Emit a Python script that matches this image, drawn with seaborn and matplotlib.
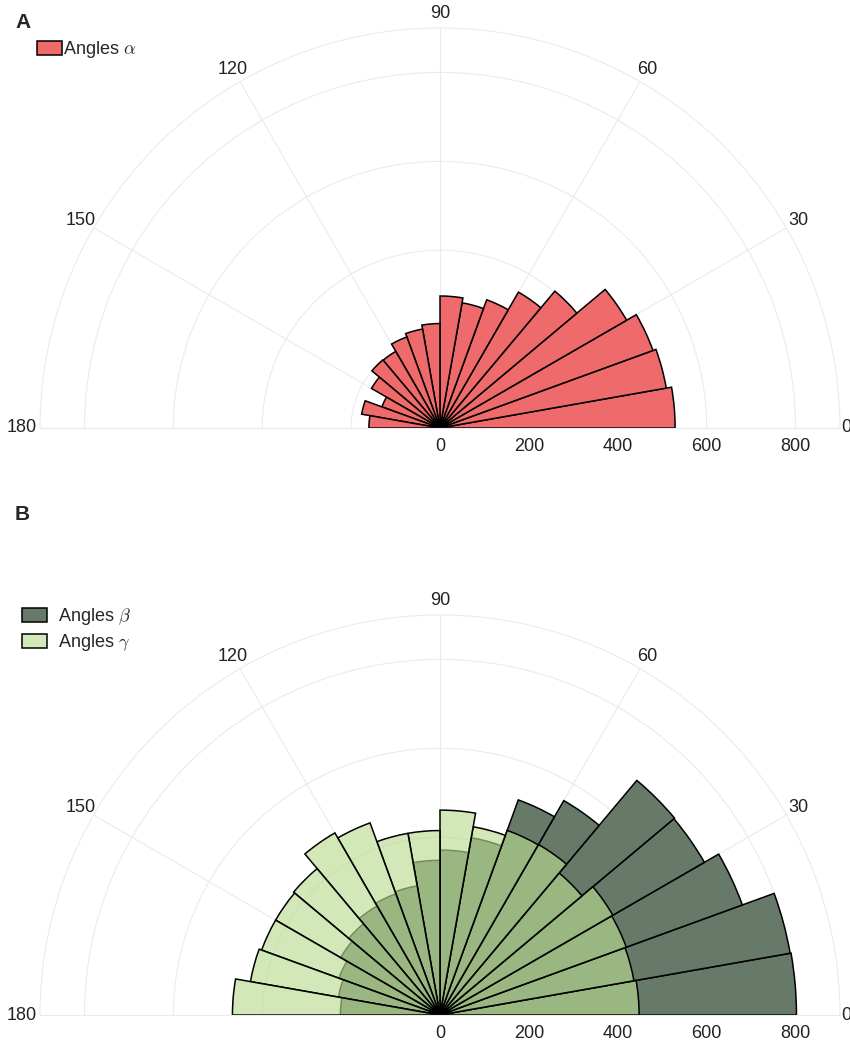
import numpy as np
import matplotlib
matplotlib.use("Agg")
import matplotlib.pyplot as plt
from matplotlib.patches import Patch
from matplotlib.colors import to_rgba
from matplotlib.transforms import offset_copy
import seaborn as sns

sns.set_theme(style="white")
plt.rcParams['font.family'] = ['Liberation Sans', 'DejaVu Sans']
plt.rcParams['mathtext.fontset'] = 'cm'

# 10 degree bins from 0 to 180
bin_start = list(range(0, 180, 10))
bin_width = 10

alpha_counts = [529, 517, 510, 485, 402, 353, 307, 286, 297,
                235, 226, 218, 199, 200, 178, 139, 179, 160]
beta_counts = [802, 800, 724, 687, 689, 557, 515, 405, 371,
               348, 295, 290, 283, 268, 258, 242, 232, 224]
gamma_counts = [448, 443, 446, 449, 417, 443, 442, 430, 461,
                415, 415, 460, 473, 430, 427, 427, 433, 467]

r_ticks = [0, 200, 400, 600, 800]
r_max = 900
theta_ticks = [0, 30, 60, 90, 120, 150, 180]

red = to_rgba("#ee5d5d", 0.92)
dark_green = to_rgba("#5a6e5c", 0.92)
light_green = to_rgba("#badb90", 0.64)
grid_col = "#ebebeb"
txt_col = "#222222"
fs = 13


def setup_polar(ax):
    ax.set_thetamin(0)
    ax.set_thetamax(180)
    ax.set_ylim(0, r_max)
    ax.set_yticks(r_ticks)
    ax.set_yticklabels([str(t) for t in r_ticks])
    ax.set_thetagrids(theta_ticks, labels=[""] * len(theta_ticks))
    ax.grid(True, color=grid_col, linewidth=0.8)
    for s in ax.spines.values():
        s.set_color(grid_col)
        s.set_linewidth(0.8)
    ax.tick_params(axis="y", labelsize=fs, labelcolor=txt_col, length=0, pad=7)
    ax.tick_params(axis="x", length=0)
    # angle labels placed by hand, just outside the rim
    for t in theta_ticks:
        th = np.deg2rad(t)
        if t == 0:
            tr = offset_copy(ax.transData, fig=ax.figure, x=1, y=0, units="dots")
            ax.text(th, r_max, str(t), transform=tr, ha="left", va="center",
                    fontsize=fs, color=txt_col)
        elif t == 180:
            tr = offset_copy(ax.transData, fig=ax.figure, x=-3, y=0, units="dots")
            ax.text(th, r_max, str(t), transform=tr, ha="right", va="center",
                    fontsize=fs, color=txt_col)
        else:
            ax.text(th, r_max * 1.036, str(t), ha="center", va="center",
                    fontsize=fs, color=txt_col)


W, H = 850, 1041
fig = plt.figure(figsize=(W / 100, H / 100), dpi=100)

theta = np.deg2rad(bin_start)
width = np.deg2rad(bin_width)

# the half-disc sits in the middle of a square box, centre at 1/4 height
# panel A
axA = fig.add_axes([40 / W, (H - 628) / H, 800 / W, 800 / H], projection="polar")
setup_polar(axA)
axA.bar(theta, alpha_counts, width=width, align="edge", facecolor=red,
        edgecolor="black", linewidth=1.1)

# panel B
axB = fig.add_axes([40 / W, (H - 1215) / H, 800 / W, 800 / H], projection="polar")
setup_polar(axB)
axB.bar(theta, beta_counts, width=width, align="edge", facecolor=dark_green,
        edgecolor="black", linewidth=1.1)
axB.bar(theta, gamma_counts, width=width, align="edge", facecolor=light_green,
        edgecolor="black", linewidth=1.1)

# legends
legA = fig.legend([Patch(facecolor=red, edgecolor="black", linewidth=1.1)],
                  [r"Angles $\alpha$"], loc="upper left",
                  bbox_to_anchor=(37 / W, 1 - 39 / H), frameon=False,
                  borderaxespad=0, borderpad=0, handlelength=1.4,
                  handleheight=0.85, handletextpad=0.02, fontsize=fs)

legB = fig.legend([Patch(facecolor=dark_green, edgecolor="black", linewidth=1.1),
                   Patch(facecolor=light_green, edgecolor="black", linewidth=1.1)],
                  [r"Angles $\beta$", r"Angles $\gamma$"], loc="upper left",
                  bbox_to_anchor=(22 / W, 1 - 606 / H), frameon=False,
                  borderaxespad=0, borderpad=0, handlelength=1.4,
                  handleheight=0.85, handletextpad=0.6, labelspacing=0.3,
                  fontsize=fs)

fig.text(15 / W, 1 - 22 / H, "A", fontsize=15, weight="bold", va="center", ha="left")
fig.text(15 / W, 1 - 515 / H, "B", fontsize=15, weight="bold", va="center", ha="left")

fig.savefig("out.png", dpi=100)
